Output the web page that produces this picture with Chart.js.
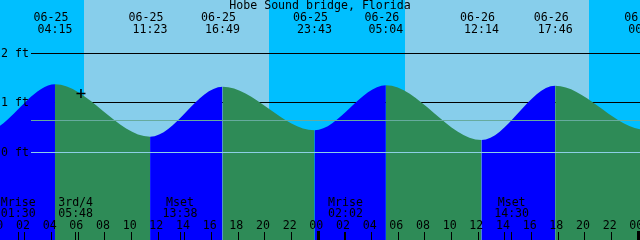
<!DOCTYPE html>
<html>
<head>
<meta charset="utf-8">
<script src="https://cdn.jsdelivr.net/npm/chart.js@4.4.0/dist/chart.umd.min.js"></script>
<style>
  html, body { margin: 0; padding: 0; background: #00bfff; }
  #tide { display: block; }
</style>
</head>
<body>
<canvas id="tide" width="640" height="240"></canvas>
<script>
"use strict";

// hours counted from 06-25 00:00, highs and lows
var tideHours = [-7.4, -1.15, 4.25, 11.383, 16.817, 23.717, 29.067, 36.233, 41.767, 48.55, 55.0];
var tideFeet  = [1.30, 0.40, 1.38, 0.32, 1.33, 0.45, 1.36, 0.25, 1.35, 0.46, 1.30];
var tideDates = ["06-24", "06-24", "06-25", "06-25", "06-25", "06-25", "06-26", "06-26", "06-26", "06-27", "06-27"];
var tideTimes = ["16:36", "22:51", "04:15", "11:23", "16:49", "23:43", "05:04", "12:14", "17:46", "00:33", "07:00"];

// daylight
var sunriseHours = [6.43, 30.5];
var sunsetHours  = [20.3, 44.3];

// moon
var moonHours  = [1.5, 5.8, 13.633, 26.033, 38.5];
var moonEvents = ["Mrise", "3rd/4", "Mset", "Mrise", "Mset"];
var moonTimes  = ["01:30", "05:48", "13:38", "02:02", "14:30"];

// bottom hour axis
var hourTicks  = [0, 2, 4, 6, 8, 10, 12, 14, 16, 18, 20, 22, 24, 26, 28, 30, 32, 34, 36, 38, 40, 42, 44, 46, 48];
var hourLabels = ["00", "02", "04", "06", "08", "10", "12", "14", "16", "18", "20", "22",
                  "00", "02", "04", "06", "08", "10", "12", "14", "16", "18", "20", "22", "00"];

// depth lines (feet)
var depthLines  = [1, 2];
var depthLabels = ["0 ft", "1 ft", "2 ft"];
var labelFeet   = [0, 1, 2];
var datumLevel  = 0;
var meanLevel   = 0.65;

// current time marker
var nowHour = 6.2;
var nowFeet = 1.19;

var FONT = '11.6px "DejaVu Sans Mono", monospace';
var NIGHT = "#00bfff", DAY = "#87ceeb";
var RISING = "#0000ff", FALLING = "#2e8b57";

var tidePoints = tideHours.map(function (h, i) { return {x: h, y: tideFeet[i]}; });

var tidePlot = {
    id: "tidePlot",
    beforeDraw: function (chart) {
        var c = chart.ctx, xs = chart.scales.x, ys = chart.scales.y, a = chart.chartArea;
        c.save();
        c.fillStyle = NIGHT;
        c.fillRect(a.left, a.top, a.right - a.left, a.bottom - a.top);
        c.fillStyle = DAY;
        sunriseHours.forEach(function (h, i) {
            var x0 = Math.round(xs.getPixelForValue(h));
            var x1 = Math.round(xs.getPixelForValue(sunsetHours[i]));
            c.fillRect(x0, a.top, x1 - x0, a.bottom - a.top);
        });
        // depth lines sit behind the water
        c.fillStyle = "#000";
        depthLines.forEach(function (v) {
            var py = Math.floor(ys.getPixelForValue(v));
            c.fillRect(31, py, a.right - 31, 1);
        });
        c.restore();
    },
    afterDatasetsDraw: function (chart) {
        var c = chart.ctx, xs = chart.scales.x, ys = chart.scales.y, a = chart.chartArea;
        c.save();

        // datum and mean level lines over the water
        c.fillStyle = "#8ccfe6";
        c.fillRect(31, Math.floor(ys.getPixelForValue(datumLevel)), a.right - 31, 1);
        c.fillStyle = "#66ab9e";
        c.fillRect(31, Math.floor(ys.getPixelForValue(meanLevel)), a.right - 31, 1);

        c.font = FONT;
        c.fillStyle = "#000";
        c.textBaseline = "middle";

        // title
        c.textAlign = "center";
        c.fillText("Hobe Sound bridge, Florida", 320, 6);

        // high / low labels
        tideHours.forEach(function (h, i) {
            if (h < xs.min) return;
            var px = xs.getPixelForValue(h);
            c.fillText(tideDates[i], px - 4, 18);
            c.fillText(tideTimes[i], px, 29.5);
        });

        // depth labels
        c.textAlign = "left";
        labelFeet.forEach(function (v, i) {
            c.fillText(depthLabels[i], 1, Math.floor(ys.getPixelForValue(v)) + 0.5);
        });

        // moon labels and ticks
        c.textAlign = "center";
        moonHours.forEach(function (h, i) {
            var px = xs.getPixelForValue(h);
            c.fillText(moonEvents[i], px, 202.5);
            c.fillText(moonTimes[i], px, 213.5);
            c.fillRect(Math.floor(px), 232, 1, 8);
        });

        // hour labels and ticks
        hourTicks.forEach(function (h, i) {
            var px = xs.getPixelForValue(h);
            c.fillText(hourLabels[i], px - 2, 225.5);
            if (h % 24 === 0) {
                c.fillRect(Math.floor(px) - 1, 231, 3, 9);
            } else {
                c.fillRect(Math.floor(px), 232, 1, 8);
            }
        });

        c.restore();
    }
};

var chart = new Chart(document.getElementById("tide"), {
    type: "line",
    data: {
        datasets: [{
            data: tidePoints,
            order: 1,
            fill: "start",
            backgroundColor: FALLING,
            borderWidth: 0,
            pointRadius: 0,
            cubicInterpolationMode: "monotone",
            segment: {
                backgroundColor: function (ctx) {
                    return ctx.p1.parsed.y > ctx.p0.parsed.y ? RISING : FALLING;
                }
            }
        }, {
            type: "scatter",
            order: 0,
            data: [{x: nowHour, y: nowFeet}],
            pointStyle: "cross",
            pointRadius: 4.5,
            borderColor: "#000",
            borderWidth: 1.5,
            backgroundColor: "#000"
        }]
    },
    options: {
        responsive: false,
        animation: false,
        layout: { padding: 0, autoPadding: false },
        elements: { line: { capBezierPoints: false } },
        plugins: {
            legend: { display: false },
            tooltip: { enabled: false }
        },
        scales: {
            x: { type: "linear", display: false, min: 0.1275, max: 48.1275 },
            y: { type: "linear", display: false, min: -1.7677, max: 3.0808 }
        }
    },
    plugins: [tidePlot]
});
</script>
</body>
</html>
